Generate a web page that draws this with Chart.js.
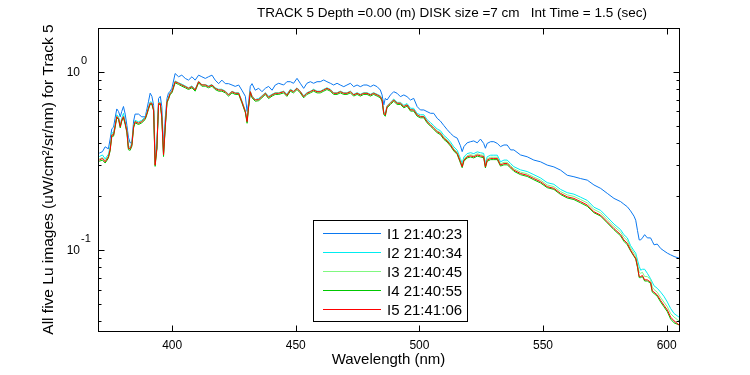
<!DOCTYPE html>
<html>
<head>
<meta charset="utf-8">
<script src="https://cdn.jsdelivr.net/npm/chart.js@4.4.1/dist/chart.umd.min.js"></script>
<style>
  html, body { margin: 0; padding: 0; background: #fff; }
</style>
</head>
<body>
<canvas id="luChart" width="750" height="375"></canvas>
<script>
// wavelength (nm) of every sample
const wavelengths = [
  370.5, 371.8, 372.9, 374.2, 374.9, 375.6, 376.3, 376.9, 377.6, 378.3,
  379.0, 379.6, 380.3, 381.0, 381.7, 382.3, 383.0, 383.7, 384.4, 385.0,
  386.4, 387.7, 389.1, 389.8, 390.4, 391.1, 391.8, 392.5, 393.1, 393.8,
  394.5, 395.2, 395.8, 396.5, 397.2, 397.9, 398.5, 399.2, 399.9, 401.2,
  402.6, 403.9, 405.3, 406.6, 408.0, 409.3, 410.7, 412.0, 413.4, 414.7,
  416.1, 417.4, 418.8, 420.1, 421.5, 422.8, 424.2, 425.5, 426.9, 428.2,
  429.6, 430.3, 430.9, 431.6, 432.3, 433.6, 435.0, 436.3, 437.7, 439.0,
  440.4, 441.7, 443.1, 445.1, 446.4, 447.8, 449.1, 450.5, 451.8, 453.2,
  454.5, 455.9, 457.2, 458.6, 459.9, 461.3, 462.6, 464.0, 465.3, 466.7,
  468.0, 469.4, 470.7, 472.1, 473.4, 474.8, 476.1, 477.5, 478.8, 480.2,
  481.5, 482.9, 484.2, 484.9, 485.6, 486.2, 486.9, 488.3, 489.6, 491.0,
  492.3, 493.7, 495.0, 496.4, 497.7, 499.1, 500.4, 501.8, 503.1, 504.5,
  505.8, 507.2, 508.5, 509.9, 511.2, 512.6, 513.9, 515.3, 516.6, 517.3,
  518.0, 519.3, 520.7, 522.0, 523.4, 524.7, 526.0, 526.7, 527.4, 528.8,
  530.1, 531.5, 532.8, 534.2, 535.5, 536.9, 538.2, 540.9, 543.6, 546.3,
  549.0, 551.7, 554.4, 557.1, 559.8, 562.5, 565.2, 567.9, 570.6, 573.3,
  576.0, 578.7, 581.4, 582.7, 584.1, 585.4, 586.8, 587.5, 588.2, 588.9,
  589.5, 590.2, 591.1, 592.2, 593.5, 594.2, 594.9, 596.2, 597.6, 598.9,
  600.3, 601.6, 603.0, 605.0
];

// Lu for the five images (uW/cm^2/sr/nm)
const lu1 = [
  0.35, 0.357, 0.38, 0.37, 0.42, 0.48, 0.49, 0.55, 0.62, 0.60,
  0.56, 0.60, 0.64, 0.58, 0.50, 0.43, 0.40, 0.40, 0.53, 0.58,
  0.58, 0.56, 0.56, 0.62, 0.68, 0.76, 0.73, 0.65, 0.34, 0.37,
  0.71, 0.73, 0.64, 0.38, 0.55, 0.71, 0.76, 0.78, 0.81, 0.98,
  0.94, 0.96, 0.92, 0.90, 0.94, 0.90, 0.96, 0.94, 0.92, 0.94,
  0.96, 0.90, 0.86, 0.90, 0.86, 0.86, 0.845, 0.83, 0.845, 0.79,
  0.73, 0.60, 0.67, 0.83, 0.86, 0.79, 0.81, 0.775, 0.81, 0.83,
  0.79, 0.845, 0.864, 0.845, 0.882, 0.882, 0.864, 0.921, 0.864, 0.809,
  0.864, 0.882, 0.864, 0.882, 0.882, 0.902, 0.882, 0.864, 0.845, 0.864,
  0.845, 0.827, 0.845, 0.864, 0.827, 0.845, 0.827, 0.845, 0.845, 0.827,
  0.845, 0.827, 0.792, 0.743, 0.653, 0.711, 0.696, 0.743, 0.775, 0.759,
  0.727, 0.743, 0.727, 0.696, 0.711, 0.639, 0.612, 0.612, 0.599, 0.586,
  0.586, 0.549, 0.53, 0.50, 0.475, 0.452, 0.435, 0.425, 0.385, 0.357,
  0.381, 0.40, 0.406, 0.41, 0.40, 0.42, 0.397, 0.373, 0.397, 0.406,
  0.406, 0.397, 0.381, 0.389, 0.389, 0.365, 0.365, 0.342, 0.334, 0.320,
  0.313, 0.300, 0.293, 0.281, 0.263, 0.258, 0.252, 0.247, 0.232, 0.222,
  0.208, 0.195, 0.187, 0.181, 0.175, 0.166, 0.155, 0.147, 0.129, 0.114,
  0.114, 0.117, 0.122, 0.117, 0.117, 0.112, 0.107, 0.108, 0.102, 0.099,
  0.096, 0.094, 0.092, 0.090
];
const lu2 = [
  0.335, 0.342, 0.325, 0.345, 0.38, 0.455, 0.455, 0.505, 0.575, 0.56,
  0.505, 0.55, 0.586, 0.525, 0.47, 0.38, 0.378, 0.40, 0.50, 0.535,
  0.525, 0.535, 0.56, 0.595, 0.635, 0.68, 0.675, 0.62, 0.31, 0.38,
  0.675, 0.675, 0.57, 0.35, 0.50, 0.69, 0.72, 0.765, 0.785, 0.89,
  0.87, 0.855, 0.835, 0.815, 0.835, 0.80, 0.885, 0.85, 0.85, 0.835,
  0.85, 0.815, 0.80, 0.80, 0.78, 0.75, 0.78, 0.765, 0.765, 0.69,
  0.605, 0.535, 0.645, 0.78, 0.735, 0.70, 0.71, 0.735, 0.765, 0.73,
  0.75, 0.765, 0.765, 0.78, 0.75, 0.80, 0.78, 0.815, 0.78, 0.735,
  0.765, 0.78, 0.80, 0.78, 0.78, 0.80, 0.815, 0.80, 0.765, 0.765,
  0.78, 0.765, 0.765, 0.78, 0.75, 0.765, 0.75, 0.765, 0.765, 0.75,
  0.765, 0.75, 0.735, 0.705, 0.595, 0.585, 0.645, 0.675, 0.705, 0.675,
  0.675, 0.65, 0.665, 0.625, 0.625, 0.585, 0.575, 0.575, 0.54, 0.52,
  0.50, 0.478, 0.468, 0.44, 0.425, 0.404, 0.38, 0.363, 0.326, 0.307,
  0.333, 0.348, 0.352, 0.348, 0.356, 0.352, 0.349, 0.305, 0.334, 0.341,
  0.341, 0.341, 0.313, 0.32, 0.32, 0.306, 0.294, 0.282, 0.276, 0.265,
  0.254, 0.239, 0.234, 0.219, 0.21, 0.206, 0.198, 0.19, 0.174, 0.167,
  0.153, 0.140, 0.130, 0.122, 0.117, 0.106, 0.099, 0.096, 0.088, 0.081,
  0.077, 0.078, 0.078, 0.074, 0.069, 0.066, 0.063, 0.061, 0.058, 0.055,
  0.051, 0.047, 0.044, 0.042
];
const lu3 = [
  0.325, 0.33, 0.318, 0.338, 0.37, 0.447, 0.447, 0.497, 0.565, 0.553,
  0.497, 0.54, 0.566, 0.518, 0.465, 0.376, 0.373, 0.392, 0.496, 0.529,
  0.518, 0.529, 0.552, 0.589, 0.628, 0.67, 0.67, 0.615, 0.303, 0.376,
  0.67, 0.67, 0.564, 0.345, 0.496, 0.684, 0.714, 0.762, 0.778, 0.885,
  0.867, 0.848, 0.83, 0.812, 0.83, 0.795, 0.885, 0.848, 0.848, 0.83,
  0.848, 0.812, 0.795, 0.795, 0.778, 0.746, 0.778, 0.762, 0.762, 0.684,
  0.602, 0.529, 0.642, 0.778, 0.73, 0.699, 0.703, 0.73, 0.762, 0.723,
  0.746, 0.762, 0.762, 0.778, 0.743, 0.795, 0.778, 0.812, 0.778, 0.73,
  0.762, 0.778, 0.795, 0.778, 0.778, 0.795, 0.812, 0.795, 0.762, 0.762,
  0.778, 0.762, 0.762, 0.778, 0.746, 0.762, 0.746, 0.762, 0.762, 0.746,
  0.762, 0.746, 0.73, 0.699, 0.589, 0.576, 0.642, 0.67, 0.699, 0.67,
  0.67, 0.642, 0.656, 0.615, 0.615, 0.576, 0.564, 0.564, 0.529, 0.508,
  0.488, 0.467, 0.457, 0.429, 0.415, 0.394, 0.37, 0.354, 0.318, 0.299,
  0.325, 0.339, 0.343, 0.339, 0.347, 0.343, 0.34, 0.298, 0.325, 0.332,
  0.332, 0.332, 0.305, 0.311, 0.311, 0.298, 0.286, 0.274, 0.268, 0.257,
  0.247, 0.232, 0.227, 0.213, 0.204, 0.2, 0.192, 0.184, 0.169, 0.162,
  0.148, 0.136, 0.126, 0.118, 0.113, 0.103, 0.096, 0.093, 0.084, 0.075,
  0.074, 0.075, 0.071, 0.071, 0.068, 0.062, 0.06, 0.058, 0.054, 0.051,
  0.048, 0.044, 0.042, 0.04
];
const lu4 = [
  0.315, 0.32, 0.308, 0.328, 0.36, 0.436, 0.436, 0.485, 0.553, 0.541,
  0.485, 0.529, 0.553, 0.507, 0.455, 0.366, 0.363, 0.383, 0.485, 0.518,
  0.507, 0.518, 0.541, 0.577, 0.616, 0.657, 0.657, 0.603, 0.295, 0.365,
  0.657, 0.657, 0.553, 0.335, 0.485, 0.671, 0.7, 0.748, 0.763, 0.869,
  0.851, 0.832, 0.815, 0.797, 0.815, 0.78, 0.869, 0.832, 0.832, 0.815,
  0.832, 0.797, 0.78, 0.78, 0.763, 0.732, 0.763, 0.748, 0.748, 0.671,
  0.59, 0.515, 0.629, 0.763, 0.716, 0.685, 0.69, 0.716, 0.748, 0.709,
  0.732, 0.748, 0.748, 0.763, 0.729, 0.78, 0.763, 0.797, 0.763, 0.716,
  0.748, 0.763, 0.78, 0.763, 0.763, 0.78, 0.797, 0.78, 0.748, 0.748,
  0.763, 0.748, 0.748, 0.763, 0.732, 0.748, 0.732, 0.748, 0.748, 0.732,
  0.748, 0.732, 0.716, 0.685, 0.577, 0.564, 0.629, 0.657, 0.685, 0.657,
  0.657, 0.629, 0.643, 0.603, 0.603, 0.564, 0.553, 0.553, 0.518, 0.496,
  0.476, 0.455, 0.445, 0.418, 0.404, 0.383, 0.36, 0.344, 0.308, 0.29,
  0.315, 0.329, 0.333, 0.329, 0.337, 0.333, 0.33, 0.289, 0.315, 0.322,
  0.322, 0.322, 0.296, 0.301, 0.301, 0.289, 0.277, 0.265, 0.259, 0.248,
  0.238, 0.224, 0.219, 0.205, 0.196, 0.192, 0.184, 0.176, 0.162, 0.155,
  0.142, 0.13, 0.12, 0.112, 0.107, 0.099, 0.092, 0.089, 0.08, 0.07,
  0.07, 0.071, 0.067, 0.067, 0.065, 0.058, 0.057, 0.055, 0.051, 0.048,
  0.045, 0.041, 0.039, 0.038
];
const lu5 = [
  0.32, 0.327, 0.313, 0.334, 0.365, 0.443, 0.443, 0.493, 0.561, 0.549,
  0.493, 0.537, 0.561, 0.515, 0.462, 0.373, 0.37, 0.389, 0.493, 0.526,
  0.515, 0.526, 0.549, 0.586, 0.625, 0.667, 0.667, 0.612, 0.30, 0.373,
  0.667, 0.667, 0.561, 0.342, 0.493, 0.681, 0.711, 0.759, 0.775, 0.882,
  0.864, 0.845, 0.827, 0.809, 0.827, 0.792, 0.882, 0.845, 0.845, 0.827,
  0.845, 0.809, 0.792, 0.792, 0.775, 0.743, 0.775, 0.759, 0.759, 0.681,
  0.599, 0.526, 0.639, 0.775, 0.727, 0.696, 0.70, 0.727, 0.759, 0.72,
  0.743, 0.759, 0.759, 0.775, 0.74, 0.792, 0.775, 0.809, 0.775, 0.727,
  0.759, 0.775, 0.792, 0.775, 0.775, 0.792, 0.809, 0.792, 0.759, 0.759,
  0.775, 0.759, 0.759, 0.775, 0.743, 0.759, 0.743, 0.759, 0.759, 0.743,
  0.759, 0.743, 0.727, 0.696, 0.586, 0.573, 0.639, 0.667, 0.696, 0.667,
  0.667, 0.639, 0.653, 0.612, 0.612, 0.573, 0.561, 0.561, 0.526, 0.504,
  0.483, 0.462, 0.452, 0.424, 0.41, 0.389, 0.365, 0.349, 0.313, 0.294,
  0.32, 0.334, 0.338, 0.334, 0.342, 0.338, 0.335, 0.293, 0.32, 0.327,
  0.327, 0.327, 0.300, 0.306, 0.306, 0.293, 0.281, 0.269, 0.263, 0.252,
  0.242, 0.227, 0.222, 0.208, 0.199, 0.195, 0.187, 0.179, 0.164, 0.157,
  0.144, 0.132, 0.122, 0.114, 0.109, 0.100, 0.093, 0.090, 0.081, 0.071,
  0.071, 0.072, 0.068, 0.068, 0.066, 0.059, 0.058, 0.056, 0.052, 0.049,
  0.046, 0.042, 0.040, 0.038
];

const seriesLabels = ['I1 21:40:23', 'I2 21:40:34', 'I3 21:40:45', 'I4 21:40:55', 'I5 21:41:06'];
const seriesColors = ['#0a78f0', '#00ecf0', '#80f880', '#00c800', '#ff0000'];
const xTickValues = [400, 450, 500, 550, 600];
const yMajorTicks = [0.1, 1];
const yMinorTicks = [0.04, 0.05, 0.06, 0.07, 0.08, 0.09, 0.2, 0.3, 0.4, 0.5, 0.6, 0.7, 0.8, 0.9];

const chartTitle = 'TRACK 5 Depth =0.00 (m) DISK size =7 cm   Int Time = 1.5 (sec)';
const fontFamily = '"Liberation Sans", Arial, Helvetica, sans-serif';

// MATLAB style frame: box, inner ticks, 10^n labels, title, legend inside the axes
const framePlugin = {
    id: 'matlabFrame',
    afterDraw(chart) {
        const ctx = chart.ctx;
        const a = chart.chartArea;
        const xs = chart.scales.x;
        const ys = chart.scales.y;
        const L = Math.round(a.left) + 0.5, R = Math.round(a.right) + 0.5;
        const T = Math.round(a.top) + 0.5, B = Math.round(a.bottom) + 0.5;
        ctx.save();
        ctx.strokeStyle = '#000';
        ctx.lineWidth = 1;
        ctx.strokeRect(L, T, R - L, B - T);

        ctx.beginPath();
        xTickValues.forEach(v => {
            const px = Math.round(xs.getPixelForValue(v)) + 0.5;
            ctx.moveTo(px, B); ctx.lineTo(px, B - 6);
            ctx.moveTo(px, T); ctx.lineTo(px, T + 6);
        });
        yMajorTicks.concat(yMinorTicks).forEach(v => {
            const py = Math.round(ys.getPixelForValue(v)) + 0.5;
            const len = yMajorTicks.includes(v) ? 6 : 3;
            ctx.moveTo(L, py); ctx.lineTo(L + len, py);
            ctx.moveTo(R, py); ctx.lineTo(R - len, py);
        });
        ctx.stroke();

        // title
        ctx.fillStyle = '#000';
        ctx.font = '13.5px ' + fontFamily;
        ctx.textAlign = 'center';
        ctx.textBaseline = 'middle';
        ctx.fillText(chartTitle, 452, 13);

        // y labels as 10 with exponent
        yMajorTicks.forEach(v => {
            const py = ys.getPixelForValue(v);
            ctx.font = '12px ' + fontFamily;
            ctx.textAlign = 'right';
            ctx.textBaseline = 'middle';
            ctx.fillText('10', 80, py + 1);
            ctx.font = '11px ' + fontFamily;
            ctx.textAlign = 'left';
            ctx.textBaseline = 'alphabetic';
            ctx.fillText(String(Math.round(Math.log10(v))), 81, py - 8);
        });

        // legend box
        const bx = 313.5, by = 220.5, bw = 154, bh = 101;
        ctx.fillStyle = '#fff';
        ctx.fillRect(bx, by, bw, bh);
        ctx.strokeRect(bx, by, bw, bh);
        chart.data.datasets.forEach((ds, i) => {
            const ly = Math.round(232.7 + i * 19.1) + 0.5;
            ctx.strokeStyle = seriesColors[i];
            ctx.lineWidth = 1;
            ctx.beginPath();
            ctx.moveTo(323, ly); ctx.lineTo(381, ly);
            ctx.stroke();
            ctx.fillStyle = '#000';
            ctx.font = '15px ' + fontFamily;
            ctx.textAlign = 'left';
            ctx.textBaseline = 'middle';
            ctx.fillText(ds.label, 387, ly + 1);
        });
        ctx.restore();
    }
};

const luSets = [lu1, lu2, lu3, lu4, lu5];
const ctx = document.getElementById('luChart').getContext('2d');
const luChart = new Chart(ctx, {
    type: 'line',
    data: {
        datasets: luSets.map((vals, i) => ({
            label: seriesLabels[i],
            data: wavelengths.map((w, k) => ({ x: w, y: vals[k] })),
            borderColor: seriesColors[i],
            borderWidth: 1,
            pointRadius: 0,
            fill: false,
            tension: 0,
            order: 5 - i // red on top
        }))
    },
    options: {
        responsive: false,
        animation: false,
        layout: { padding: { left: 0, right: 71, top: 28, bottom: 0 } },
        plugins: {
            legend: { display: false },
            tooltip: { enabled: false },
            title: { display: false }
        },
        scales: {
            x: {
                type: 'linear',
                min: 370,
                max: 605,
                afterBuildTicks: s => { s.ticks = xTickValues.map(v => ({ value: v })); },
                afterFit: s => { s.height = 44; },
                grid: { display: false, drawTicks: false },
                border: { display: false },
                ticks: {
                    color: '#000',
                    padding: 7,
                    maxRotation: 0,
                    font: { family: fontFamily, size: 12 }
                },
                title: {
                    display: true,
                    text: 'Wavelength (nm)',
                    color: '#000',
                    font: { family: fontFamily, size: 15 },
                    padding: { top: 0, bottom: 6 }
                }
            },
            y: {
                type: 'logarithmic',
                min: 0.0351,
                max: 1.766,
                afterFit: s => { s.width = 98; },
                grid: { display: false, drawTicks: false },
                border: { display: false },
                ticks: { display: false },
                title: {
                    display: true,
                    text: 'All five Lu images (uW/cm²/sr/nm) for Track 5',
                    color: '#000',
                    font: { family: fontFamily, size: 15.5 },
                    padding: { top: 39, bottom: 0 }
                }
            }
        }
    },
    plugins: [framePlugin]
});
</script>
</body>
</html>
